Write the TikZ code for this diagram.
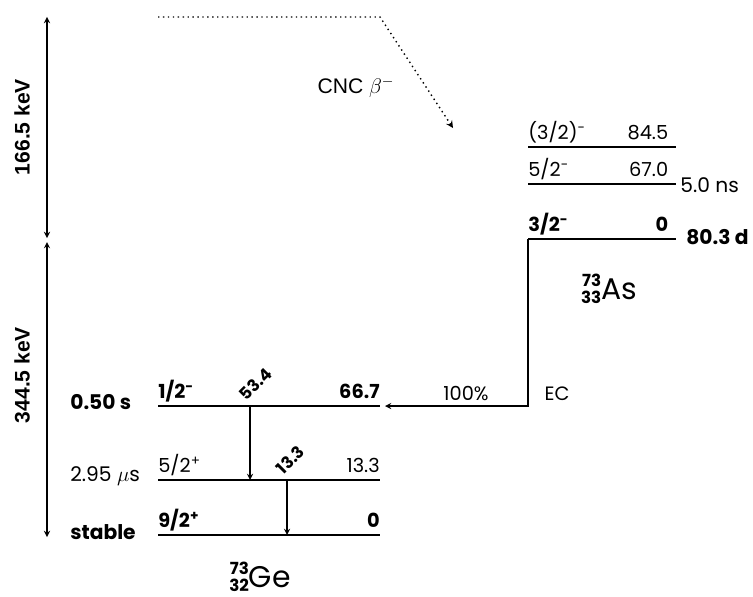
\documentclass[tikz,border=0pt]{standalone}
\usepackage{amsmath}
\usepackage{fontspec}
\setmainfont{Poppins}
\newfontfamily\helv{Liberation Sans}
\usepackage{tikz}

% nuclide label: mass and charge stacked before the symbol
\newcommand{\nuclab}[3]{\raisebox{-2.5pt}{\fontsize{9.5}{8.5}\selectfont\bfseries
	\begin{tabular}[b]{@{}r@{}}#1\\#2\end{tabular}}#3}

\begin{document}
\begin{tikzpicture}[>=stealth, x=0.2mm, y=-0.2mm]
    \tikzstyle{lvl} = [line width=0.8pt]
    \tikzstyle{gslvl} = [line width=1.6pt]
    \tikzstyle{gam} = [->, semithick]
    \tikzstyle{spin} = [anchor=base west, inner sep=0pt, yshift=1.5mm,
	font=\fontsize{11}{13}\selectfont]
    \tikzstyle{ener} = [anchor=base east, inner sep=0pt, yshift=1.5mm,
	font=\fontsize{11}{13}\selectfont]
    \tikzstyle{hl} = [anchor=west, inner sep=0pt, font=\fontsize{11.5}{13}\selectfont]
    \tikzstyle{gtxt} = [rotate=45, anchor=south west, inner sep=0pt,
	font=\fontsize{9.5}{11}\selectfont\bfseries]
    \tikzstyle{nucl} = [anchor=base, inner sep=0pt, font=\fontsize{17}{19}\selectfont]
    \tikzstyle{kev} = [rotate=90, font=\helv\fontsize{12}{14}\selectfont\bfseries]
    \useasboundingbox (0,0) rectangle (753,597);

	% energy scale
	\coordinate (top) at (47,17);
	\coordinate (midA) at (47,238);
	\coordinate (midB) at (47,242);
	\coordinate (bot) at (47,537);
	\draw[<->, semithick] (top) -- (midA);
	\draw[<->, semithick] (midB) -- (bot);
	\node[kev] (kA) at (22,127) {166.5 keV};
	\node[kev] (kB) at (22,375) {344.5 keV};

	% 73Ge
	\coordinate (GeA-l) at (158,406); \coordinate (GeA-r) at (380,406);
	\coordinate (GeB-l) at (158,480); \coordinate (GeB-r) at (380,480);
	\coordinate (GeC-l) at (158,535); \coordinate (GeC-r) at (380,535);
	\draw[gslvl] (GeA-l) -- (GeA-r);
	\draw[lvl] (GeB-l) -- (GeB-r);
	\draw[gslvl] (GeC-l) -- (GeC-r);
	\path
		node[spin] (sGeA) at (GeA-l) {\bfseries 1/2\textsuperscript{-}}
		node[ener] (eGeA) at (GeA-r) {\bfseries 66.7}
		node[spin] (sGeB) at (GeB-l) {5/2\textsuperscript{+}}
		node[ener] (eGeB) at (GeB-r) {13.3}
		node[spin] (sGeC) at (GeC-l) {\bfseries 9/2\textsuperscript{+}}
		node[ener] (eGeC) at (GeC-r) {\bfseries 0}
		node[hl] (tGeA) at (70,402) {\bfseries 0.50 s}
		node[hl] (tGeB) at (70,476) {2.95 $\mu$s}
		node[hl] (tGeC) at (70,532) {\bfseries stable}
		node[nucl] (Ge) at (260,587) {\nuclab{73}{32}{Ge}}
	;
	\coordinate (g1a) at (250,406); \coordinate (g1b) at (250,480);
	\coordinate (g2a) at (287,480); \coordinate (g2b) at (287,535);
	\draw[gam] (g1a) -- (g1b);
	\draw[gam] (g2a) -- (g2b);
	\node[gtxt] (lg1) at (247,402) {53.4};
	\node[gtxt] (lg2) at (284,476) {13.3};

	% 73As
	\coordinate (AsC-l) at (528,147); \coordinate (AsC-r) at (676,147);
	\coordinate (AsB-l) at (528,184); \coordinate (AsB-r) at (676,184);
	\coordinate (AsA-l) at (528,239); \coordinate (AsA-r) at (676,239);
	\draw[lvl] (AsC-l) -- (AsC-r);
	\draw[lvl] (AsB-l) -- (AsB-r);
	\draw[gslvl] (AsA-l) -- (AsA-r);
	\path
		node[spin] (sAsC) at (AsC-l) {(3/2)\textsuperscript{-}}
		node[ener, xshift=-1.5mm] (eAsC) at (AsC-r) {84.5}
		node[spin] (sAsB) at (AsB-l) {5/2\textsuperscript{-}}
		node[ener, xshift=-1.5mm] (eAsB) at (AsB-r) {67.0}
		node[spin] (sAsA) at (AsA-l) {\bfseries 3/2\textsuperscript{-}}
		node[ener, xshift=-1.5mm] (eAsA) at (AsA-r) {\bfseries 0}
		node[hl] (tAsB) at (680,185) {5.0 ns}
		node[hl] (tAsA) at (686,237) {\bfseries 80.3 d}
		node[nucl] (As) at (609,299) {\nuclab{73}{33}{As}}
	;

	% decays
	\coordinate (ecc) at (528,406);
	\coordinate (ecend) at (385,406);
	\draw[->, semithick] (AsA-l) -- (ecc) -- (ecend);
	\node[font=\fontsize{11}{13}\selectfont] (pc) at (466,394) {100\%};
	\node[font=\fontsize{11}{13}\selectfont] (ec) at (557,394) {EC};
	\coordinate (cncA) at (158,17);
	\coordinate (cncB) at (380,17);
	\coordinate (cncC) at (453,128);
	\draw[->, dotted, line width=0.8pt] (cncA) -- (cncB) -- (cncC);
	\node[font=\helv\fontsize{12}{14}\selectfont] (cnc) at (356,87) {CNC $\beta^{-}$};
\end{tikzpicture}
\end{document}
